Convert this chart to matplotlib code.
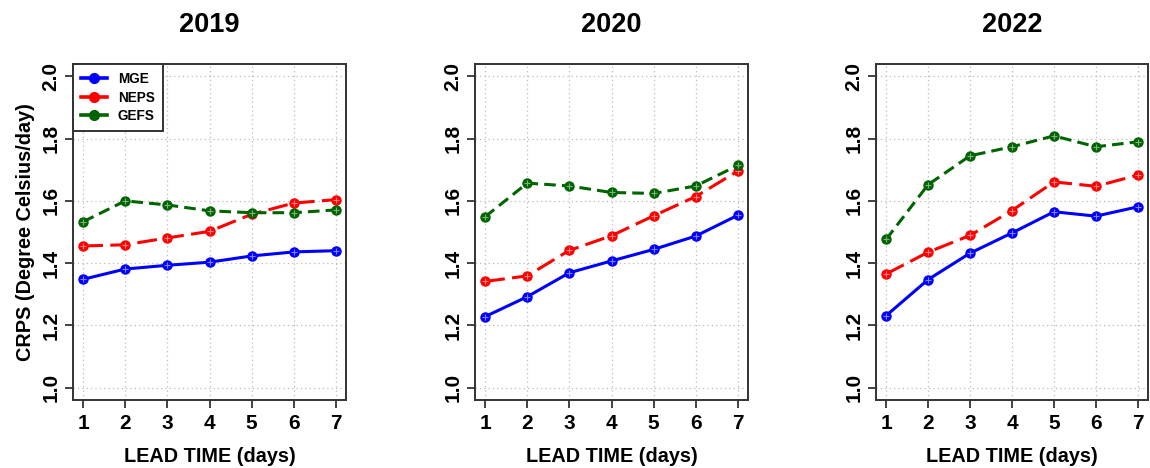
import matplotlib
matplotlib.use("Agg")
import matplotlib.pyplot as plt
import numpy as np

plt.rcParams['font.family'] = ['Liberation Sans', 'DejaVu Sans']
plt.rcParams['font.weight'] = 'bold'

lead_days = [1, 2, 3, 4, 5, 6, 7]
years = ["2019", "2020", "2022"]

mge_2019 = [1.348, 1.381, 1.393, 1.403, 1.423, 1.436, 1.440]
neps_2019 = [1.455, 1.459, 1.481, 1.502, 1.557, 1.593, 1.604]
gefs_2019 = [1.533, 1.600, 1.587, 1.568, 1.562, 1.562, 1.571]

mge_2020 = [1.228, 1.292, 1.369, 1.407, 1.444, 1.487, 1.554]
neps_2020 = [1.341, 1.359, 1.441, 1.488, 1.552, 1.614, 1.696]
gefs_2020 = [1.549, 1.657, 1.648, 1.627, 1.624, 1.648, 1.714]

mge_2022 = [1.231, 1.347, 1.432, 1.497, 1.565, 1.551, 1.581]
neps_2022 = [1.365, 1.435, 1.489, 1.569, 1.661, 1.647, 1.683]
gefs_2022 = [1.476, 1.652, 1.745, 1.774, 1.809, 1.774, 1.790]

series_names = ["MGE", "NEPS", "GEFS"]
colors = ["#0000FF", "#FF0000", "#006400"]
dashes = [None, (6.5, 2.4), (3.8, 2.0)]

data = {
    "2019": [mge_2019, neps_2019, gefs_2019],
    "2020": [mge_2020, neps_2020, gefs_2020],
    "2022": [mge_2022, neps_2022, gefs_2022],
}

yticks = [1.0, 1.2, 1.4, 1.6, 1.8, 2.0]

W, H = 1150, 468
fig = plt.figure(figsize=(W / 100, H / 100), dpi=100)

lefts = [73, 475, 876]
widths = [273, 273, 272]
top, bottom = 64, 400

for i, yr in enumerate(years):
    ax = fig.add_axes([lefts[i] / W, 1 - bottom / H, widths[i] / W, (bottom - top) / H])
    handles = []
    for vals, name, c, d in zip(data[yr], series_names, colors, dashes):
        ln, = ax.plot(lead_days, vals, color=c, lw=2.2, marker='o', ms=6.5,
                      mec=c, mfc=c, label=name, solid_capstyle='butt', dash_capstyle='butt')
        if d is not None:
            ln.set_dashes(d)
        ax.plot(lead_days, vals, ls='none', marker='+', ms=4, mew=0.8,
                color='white', alpha=0.5)
        handles.append(ln)
    ax.set_xlim(0.76, 7.24)
    ax.set_ylim(0.96, 2.04)
    ax.set_xticks(lead_days)
    ax.set_yticks(yticks)
    ax.set_yticklabels([f"{v:.1f}" for v in yticks], rotation=90, va='center')
    ax.tick_params(axis='both', direction='out', length=6, width=1.2, colors='#222222',
                   labelsize=15, labelcolor='black')
    ax.tick_params(axis='x', pad=4)
    ax.tick_params(axis='y', pad=3)
    ax.grid(True, ls=(0, (1, 2.5)), color='#BBBBBB', lw=0.9)
    ax.set_axisbelow(True)
    for s in ax.spines.values():
        s.set_linewidth(1.4)
        s.set_color('#333333')
    ax.set_xlabel("LEAD TIME (days)", fontsize=14.3, fontweight='bold', labelpad=10)
    if i == 0:
        ax.set_ylabel("CRPS (Degree Celsius/day)", fontsize=14.3, fontweight='bold', labelpad=5)
        leg = ax.legend(handles=[plt.Line2D([], [], color=c, lw=2.6, marker='o', ms=7)
                                 for c in colors],
                        labels=series_names, loc='upper left', bbox_to_anchor=(0, 1),
                        borderaxespad=0, fancybox=False, framealpha=1,
                        edgecolor='#333333', fontsize=9.8, handlelength=1.9,
                        handletextpad=0.8, borderpad=0.6, labelspacing=0.32)
        leg.get_frame().set_linewidth(1.4)
        for t in leg.get_texts():
            t.set_fontweight('bold')
    cx = (lefts[i] + widths[i] / 2) / W
    fig.text(cx, 1 - 25 / H, yr, ha='center', va='center', fontsize=19.5, fontweight='bold')

fig.savefig("out.png", dpi=100)
